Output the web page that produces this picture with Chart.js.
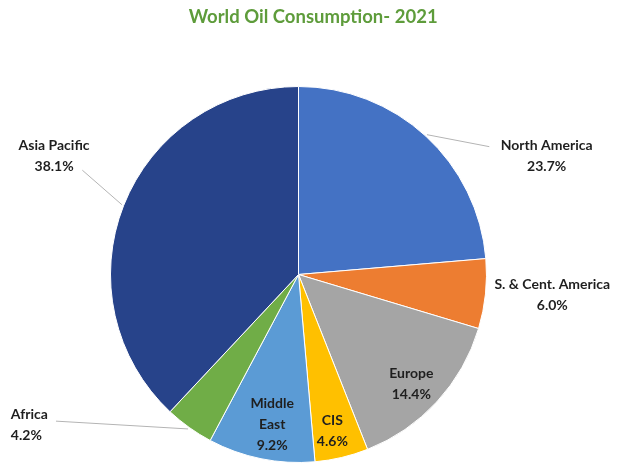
<!DOCTYPE html>
<html>
<head>
<meta charset="utf-8">
<title>World Oil Consumption 2021</title>
<script src="https://cdn.jsdelivr.net/npm/chart.js@4.4.1/dist/chart.umd.min.js"></script>
<style>
  html, body { margin: 0; padding: 0; background: #fff; }
  #wrap { width: 634px; height: 465px; position: relative; }
</style>
</head>
<body>
<div id="wrap"><canvas id="oilChart" width="634" height="465"></canvas></div>
<script>
const chartTitle = "World Oil Consumption- 2021";
const regions = ["North America", "S. & Cent. America", "Europe", "CIS", "Middle East", "Africa", "Asia Pacific"];
const shares = [23.7, 6.0, 14.4, 4.6, 9.2, 4.2, 38.1];
const sliceColors = ["#4472c4", "#ed7d31", "#a5a5a5", "#ffc000", "#5b9bd5", "#70ad47", "#27438a"];

// where each label sits, in units of the pie radius from its centre
const labelSpots = [
  { fx: 1.32, fy: -0.63, align: "center", lead: { fx: 1.015, fy: -0.68 } },
  { fx: 1.35, fy: 0.11, align: "center" },
  { fx: 0.60, fy: 0.58, align: "center" },
  { fx: 0.18, fy: 0.83, align: "center" },
  { fx: -0.14, fy: 0.80, align: "center", wrap: true },
  { fx: -1.53, fy: 0.80, align: "left", lead: { fx: -1.29, fy: 0.78 } },
  { fx: -1.30, fy: -0.63, align: "center", lead: { fx: -1.15, fy: -0.555 } }
];

const labelFont = "bold 14px Lato, 'Open Sans', sans-serif";
const lineGap = 21;

const sliceLabels = {
  id: "sliceLabels",
  afterDatasetsDraw(chart) {
    const ctx = chart.ctx;
    const arcs = chart.getDatasetMeta(0).data;
    ctx.save();
    arcs.forEach(function (arc, i) {
      const spot = labelSpots[i];
      const cx = arc.x, cy = arc.y, r = arc.outerRadius;
      const mid = (arc.startAngle + arc.endAngle) / 2;

      if (spot.lead) {
        ctx.strokeStyle = "#b4b4b4";
        ctx.lineWidth = 1;
        ctx.beginPath();
        ctx.moveTo(cx + Math.cos(mid) * r * 1.01, cy + Math.sin(mid) * r * 1.01);
        ctx.lineTo(cx + spot.lead.fx * r, cy + spot.lead.fy * r);
        ctx.stroke();
      }

      let lines = spot.wrap ? regions[i].split(" ") : [regions[i]];
      lines = lines.concat([shares[i].toFixed(1) + "%"]);
      const x = cx + spot.fx * r;
      const y0 = cy + spot.fy * r - (lines.length - 1) * lineGap / 2;
      ctx.font = labelFont;
      ctx.fillStyle = "#1f1f1f";
      ctx.textAlign = spot.align;
      ctx.textBaseline = "middle";
      lines.forEach(function (t, k) {
        ctx.fillText(t, x, y0 + k * lineGap);
      });
    });
    ctx.restore();
  },
  afterDraw(chart) {
    const ctx = chart.ctx;
    ctx.save();
    ctx.font = "bold 18.5px Lato, 'Open Sans', sans-serif";
    ctx.fillStyle = "#5e9c3b";
    ctx.textAlign = "center";
    ctx.textBaseline = "middle";
    ctx.fillText(chartTitle, chart.width * 0.494, 17);
    ctx.restore();
  }
};

new Chart(document.getElementById("oilChart"), {
  type: "pie",
  data: {
    labels: regions,
    datasets: [{
      data: shares,
      backgroundColor: sliceColors,
      borderColor: "#ffffff",
      borderWidth: 1
    }]
  },
  options: {
    responsive: false,
    animation: false,
    layout: { padding: { top: 86, bottom: 2, left: 110, right: 147 } },
    plugins: {
      legend: { display: false },
      title: { display: false },
      tooltip: { enabled: false }
    }
  },
  plugins: [sliceLabels]
});
</script>
</body>
</html>
